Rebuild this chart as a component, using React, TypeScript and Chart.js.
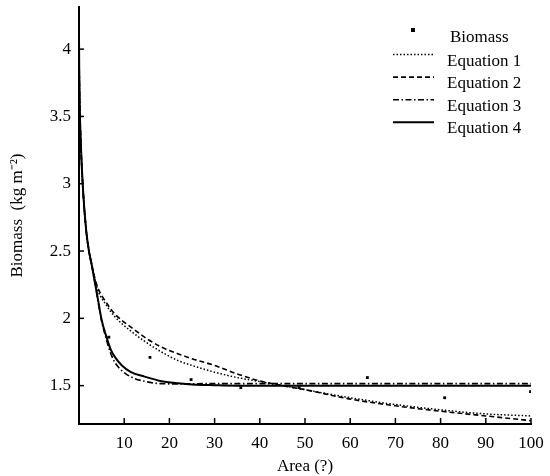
import React, { useEffect, useRef } from "react";
import { Chart, registerables } from "chart.js";

Chart.register(...registerables);

const xSamples = [0.01, 0.05, 0.15, 0.4, 0.9, 1.6, 2.2, 2.8, 3.5, 4.25, 5, 6, 7, 8, 9.5, 11.5, 14.5, 18, 22, 25, 30, 35, 40, 45, 50, 60, 70, 80, 90, 100];
const eq1 = [4.05, 3.85, 3.6, 3.3, 2.95, 2.65, 2.5, 2.4, 2.29, 2.2, 2.15, 2.1, 2.05, 2.01, 1.96, 1.905, 1.83, 1.755, 1.685, 1.65, 1.6, 1.56, 1.53, 1.5, 1.47, 1.41, 1.36, 1.32, 1.29, 1.275];
const eq2 = [4.05, 3.85, 3.6, 3.3, 2.95, 2.65, 2.5, 2.4, 2.3, 2.22, 2.17, 2.12, 2.07, 2.03, 1.985, 1.935, 1.86, 1.79, 1.735, 1.7, 1.65, 1.587, 1.535, 1.5, 1.47, 1.4, 1.35, 1.31, 1.275, 1.24];
const eq3 = [4.05, 3.85, 3.6, 3.3, 2.95, 2.65, 2.5, 2.4, 2.27, 2.12, 1.98, 1.85, 1.74, 1.67, 1.61, 1.565, 1.532, 1.515, 1.513, 1.514, 1.515, 1.515, 1.515, 1.515, 1.515, 1.515, 1.515, 1.515, 1.515, 1.515];
const eq4 = [4.05, 3.85, 3.6, 3.3, 2.95, 2.65, 2.5, 2.4, 2.27, 2.13, 1.99, 1.87, 1.77, 1.71, 1.65, 1.6, 1.567, 1.535, 1.517, 1.508, 1.503, 1.5, 1.5, 1.5, 1.5, 1.5, 1.5, 1.5, 1.5, 1.5];

const biomassX = [6.6, 15.7, 24.8, 35.8, 48.7, 63.8, 80.9, 99.9];
const biomassY = [1.86, 1.71, 1.545, 1.485, 1.485, 1.56, 1.41, 1.455];

const xTicks = [10, 20, 30, 40, 50, 60, 70, 80, 90, 100];
const yTicks = [1.5, 2, 2.5, 3, 3.5, 4];

const seriesNames = ["Biomass", "Equation 1", "Equation 2", "Equation 3", "Equation 4"];

const FONT = "'Liberation Serif', 'Times New Roman', serif";

const insideTicks = {
  id: "insideTicks",
  afterDraw(chart: any) {
    const { ctx, chartArea, scales } = chart;
    ctx.save();
    ctx.strokeStyle = "#000";
    ctx.lineWidth = 1.5;
    xTicks.forEach((v) => {
      const px = scales.x.getPixelForValue(v);
      ctx.beginPath();
      ctx.moveTo(px, chartArea.bottom);
      ctx.lineTo(px, chartArea.bottom - 6);
      ctx.stroke();
    });
    yTicks.forEach((v) => {
      const py = scales.y.getPixelForValue(v);
      ctx.beginPath();
      ctx.moveTo(chartArea.left, py);
      ctx.lineTo(chartArea.left + 5, py);
      ctx.stroke();
    });
    ctx.restore();
  },
};

const customLegend = {
  id: "customLegend",
  afterDraw(chart: any) {
    const { ctx } = chart;
    ctx.save();
    ctx.fillStyle = "#000";
    ctx.strokeStyle = "#000";
    ctx.font = `17px ${FONT}`;
    ctx.textBaseline = "alphabetic";
    ctx.textAlign = "left";
    ctx.fillRect(411, 28, 4, 4);
    ctx.fillText(chart.data.datasets[0].label, 450, 42);
    [1, 2, 3, 4].forEach((di, i) => {
      const ds = chart.data.datasets[di];
      const ly = 54.5 + i * 22.6;
      ctx.beginPath();
      ctx.setLineDash(ds.borderDash || []);
      ctx.lineWidth = ds.borderWidth;
      ctx.moveTo(393, ly);
      ctx.lineTo(434, ly);
      ctx.stroke();
      ctx.setLineDash([]);
      ctx.fillText(ds.label, 447, ly + 11);
    });
    ctx.restore();
  },
};

export default function App() {
  const ref = useRef<HTMLCanvasElement>(null);
  useEffect(() => {
    if (!ref.current) return;
    const mk = (ys: number[]) => xSamples.map((x, i) => ({ x, y: ys[i] }));
    const lineDs = (label: string, ys: number[], dash: number[], w: number) => ({
      type: "line" as const,
      label,
      data: mk(ys),
      borderColor: "#000",
      backgroundColor: "#000",
      borderWidth: w,
      borderDash: dash,
      pointRadius: 0,
      fill: false,
      cubicInterpolationMode: "monotone" as const,
    });
    const chart = new Chart(ref.current, {
      type: "scatter",
      data: {
        datasets: [
          {
            type: "scatter" as const,
            label: seriesNames[0],
            data: biomassX.map((x, i) => ({ x, y: biomassY[i] })),
            pointStyle: "rect",
            pointRadius: 2,
            backgroundColor: "#000",
            borderColor: "#000",
            borderWidth: 0,
          },
          lineDs(seriesNames[1], eq1, [1.5, 2], 1.5),
          lineDs(seriesNames[2], eq2, [5, 3], 1.6),
          lineDs(seriesNames[3], eq3, [6, 2.5, 1.5, 2.5], 1.6),
          lineDs(seriesNames[4], eq4, [], 2),
        ] as any,
      },
      options: {
        responsive: false,
        animation: false,
        layout: { padding: { left: 0, right: 19, top: 7, bottom: 0 } },
        plugins: { legend: { display: false }, tooltip: { enabled: false } },
        scales: {
          x: {
            type: "linear",
            min: 0,
            max: 100,
            afterFit: (s: any) => { s.height = 52; s.paddingLeft = 0; s.paddingRight = 0; },
            afterBuildTicks: (s: any) => { s.ticks = xTicks.map((v) => ({ value: v })); },
            grid: { display: true, drawOnChartArea: false, drawTicks: false },
            border: { display: true, color: "#000", width: 2 },
            ticks: { color: "#000", padding: 9, maxRotation: 0, autoSkip: false, font: { family: FONT, size: 17 } },
            title: { display: true, text: "Area (?)", color: "#000", padding: { top: 0, bottom: 0 }, font: { family: FONT, size: 17, lineHeight: 1.1 } },
          },
          y: {
            type: "linear",
            min: 1.215,
            max: 4.313,
            afterFit: (s: any) => { s.width = 79; s.paddingTop = 0; s.paddingBottom = 0; },
            afterBuildTicks: (s: any) => { s.ticks = yTicks.map((v) => ({ value: v })); },
            grid: { display: true, drawOnChartArea: false, drawTicks: false },
            border: { display: true, color: "#000", width: 2 },
            ticks: { color: "#000", padding: 8, autoSkip: false, font: { family: FONT, size: 17 }, callback: (v: any) => String(v) },
            title: { display: true, text: "Biomass  (kg m\u207B\u00B2)", color: "#000", padding: { top: 7, bottom: 0 }, font: { family: FONT, size: 17 } },
          },
        },
      },
      plugins: [insideTicks, customLegend],
    });
    return () => chart.destroy();
  }, []);
  return (
    <div style={{ position: "absolute", left: 0, top: 0, width: 550, height: 476, background: "#fff" }}>
      <canvas ref={ref} width={550} height={476} />
    </div>
  );
}
